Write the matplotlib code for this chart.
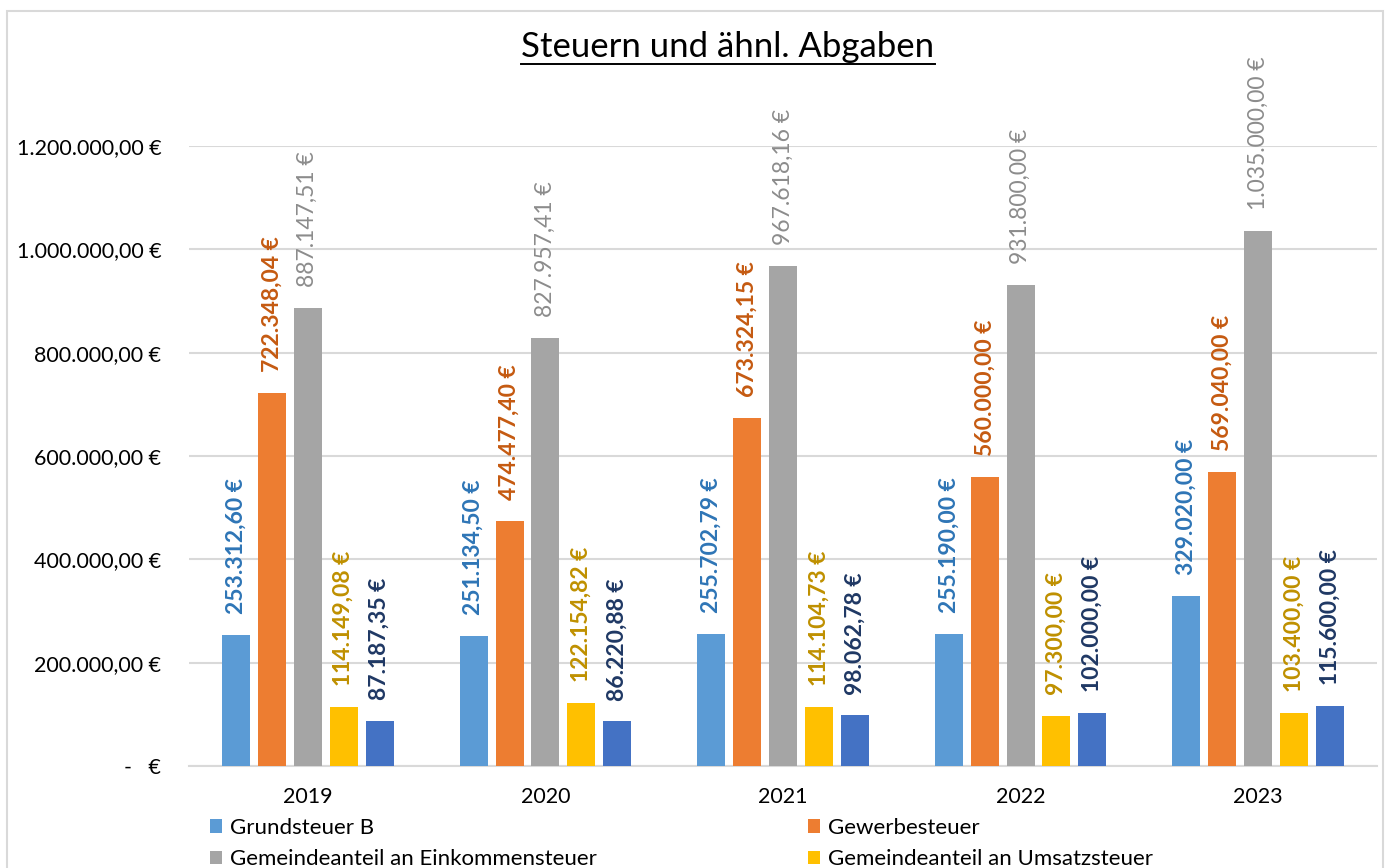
import matplotlib.pyplot as plt
import matplotlib.patches as mpatches
import numpy as np

plt.rcParams['font.family'] = ['Lato', 'DejaVu Sans']

years = ["2019", "2020", "2021", "2022", "2023"]
grundsteuer_b = [253312.60, 251134.50, 255702.79, 255190.00, 329020.00]
gewerbesteuer = [722348.04, 474477.40, 673324.15, 560000.00, 569040.00]
einkommensteuer = [887147.51, 827957.41, 967618.16, 931800.00, 1035000.00]
umsatzsteuer = [114149.08, 122154.82, 114104.73, 97300.00, 103400.00]
sonstige = [87187.35, 86220.88, 98062.78, 102000.00, 115600.00]

names = ["Grundsteuer B", "Gewerbesteuer", "Gemeindeanteil an Einkommensteuer",
         "Gemeindeanteil an Umsatzsteuer", "Sonstige"]
series = [grundsteuer_b, gewerbesteuer, einkommensteuer, umsatzsteuer, sonstige]
bar_colors = ["#5B9BD5", "#ED7D31", "#A5A5A5", "#FFC000", "#4472C4"]
label_colors = ["#2E75B6", "#C55A11", "#8C8C8C", "#BF9000", "#1F3864"]
label_weights = ["bold", "bold", "normal", "bold", "bold"]


def euro(v):
    if v == 0:
        return "-   €"
    s = f"{v:,.2f}".replace(",", "X").replace(".", ",").replace("X", ".")
    return s + " €"


fig = plt.figure(figsize=(13.86, 8.68), dpi=100)
ax = fig.add_axes([189/1386, 1-766/868, (1377-189)/1386, (766-146)/868])

# chart border
fig.patches.append(mpatches.Rectangle((7/1386, -0.05), (1383-7)/1386, 1.05-11/868,
                                      transform=fig.transFigure, fill=False,
                                      edgecolor="#D9D9D9", lw=1.5))

x = np.arange(len(years))
w = 0.118
step = 0.151
handles = []
for i, vals in enumerate(series):
    pos = x + (i - 2) * step
    b = ax.bar(pos, vals, width=w, color=bar_colors[i], label=names[i], zorder=3)
    handles.append(b)
    for xp, v in zip(pos, vals):
        ax.annotate(euro(v), (xp, v), xytext=(0, 15), textcoords="offset points",
                    rotation=90, ha="center", va="bottom", fontsize=16.5,
                    color=label_colors[i], fontweight=label_weights[i],
                    annotation_clip=False)

ax.set_xlim(-0.5, len(years) - 0.5)
ax.set_ylim(0, 1200000)
ax.set_yticks(np.arange(0, 1200001, 200000))
ax.set_yticklabels([euro(t) for t in np.arange(0, 1200001, 200000)])
ax.set_xticks(x)
ax.set_xticklabels(years)
ax.tick_params(axis="y", length=0, pad=20, labelsize=15.5)
ax.tick_params(axis="x", length=0, pad=15, labelsize=15.5)
ax.grid(axis="y", color="#D9D9D9", lw=1.5, zorder=0)
for s in ["top", "right", "left"]:
    ax.spines[s].set_visible(False)
ax.spines["bottom"].set_color("#D9D9D9")
ax.spines["bottom"].set_linewidth(1.5)

t = fig.text(728/1386, 1-47/868, "Steuern und ähnl. Abgaben", ha="center", va="center",
             fontsize=25, color="#000000")
# underline the title
fig.canvas.draw()
bb = t.get_window_extent()
fig.add_artist(plt.Line2D([bb.x0/1386, bb.x1/1386], [(bb.y0 - 1)/868, (bb.y0 - 1)/868],
                          transform=fig.transFigure, color="black", lw=1.4))

order = [handles[0], handles[2], handles[1], handles[3]]
fig.legend(order, [h.get_label() for h in order], ncol=2, loc="upper left",
           bbox_to_anchor=(210/1386, 1-818/868), frameon=False, fontsize=16,
           borderpad=0, borderaxespad=0,
           handlelength=0.55, handleheight=0.55, handletextpad=0.35,
           columnspacing=9.5, labelspacing=0.5)

fig.savefig("out.png", dpi=100)
